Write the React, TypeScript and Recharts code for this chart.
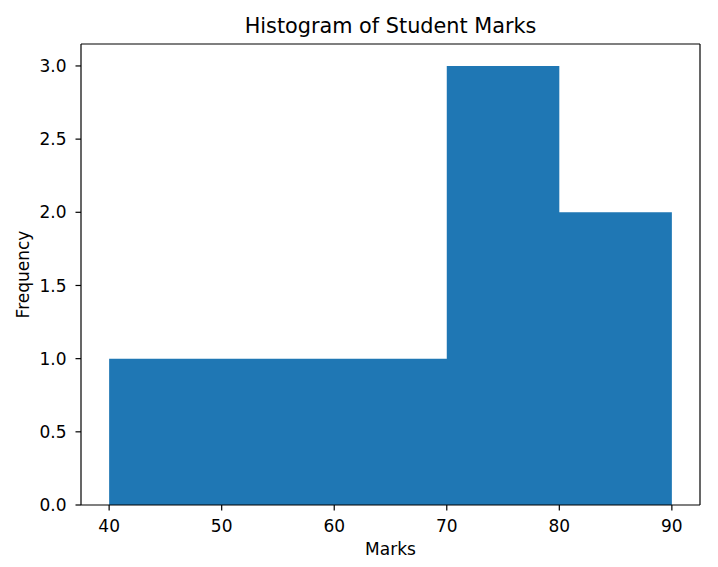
import React from 'react';
import { ComposedChart, Area, XAxis, YAxis, ReferenceLine } from 'recharts';

// histogram bins: edges and counts
const binEdges = [40, 70, 80, 90];
const binCounts = [1, 3, 2];
const xTicks = [40, 50, 60, 70, 80, 90];
const yTicks = [0, 0.5, 1.0, 1.5, 2.0, 2.5, 3.0];

const X_DOMAIN = [37.5, 92.5];
const Y_DOMAIN = [0, 3.15];

const BLUE = '#1f77b4';
const FONT = 'DejaVu Sans, sans-serif';

const App: React.FC = () => {
  // step area: each edge holds the count of the bin starting there, last edge repeats the last count
  const data = binEdges.map((edge, i) => ({
    marks: edge,
    freq: i < binCounts.length ? binCounts[i] : binCounts[binCounts.length - 1],
  }));

  const tickStyle = { fontSize: 17, fontFamily: FONT, fill: '#000' };

  return (
    <div style={{ position: 'absolute', left: 0, top: 0, background: '#fff' }}>
      <ComposedChart width={718} height={567} data={data} margin={{ top: 44, right: 18, bottom: 0, left: 0 }}>
        <XAxis
          dataKey="marks"
          type="number"
          domain={X_DOMAIN}
          ticks={xTicks}
          allowDataOverflow
          height={62}
          stroke="#000"
          strokeWidth={1.2}
          tickSize={5.5}
          tickMargin={9}
          tick={tickStyle}
          label={{
            content: ({ viewBox }: any) => (
              <text x={viewBox.x + viewBox.width / 2} y={555} textAnchor="middle" fontSize={17} fontFamily={FONT} fill="#000">
                Marks
              </text>
            ),
          }}
        />
        <YAxis
          type="number"
          domain={Y_DOMAIN}
          ticks={yTicks}
          allowDataOverflow
          width={81}
          stroke="#000"
          strokeWidth={1.2}
          tickSize={5.5}
          tickMargin={9}
          tick={tickStyle}
          tickFormatter={(v: number) => v.toFixed(1)}
          label={{
            content: ({ viewBox }: any) => {
              const cy = viewBox.y + viewBox.height / 2;
              return (
                <text x={29} y={cy} transform={`rotate(-90, 29, ${cy})`} textAnchor="middle" fontSize={17} fontFamily={FONT} fill="#000">
                  Frequency
                </text>
              );
            },
          }}
        />
        <Area
          dataKey="freq"
          type="stepAfter"
          fill={BLUE}
          fillOpacity={1}
          stroke="none"
          isAnimationActive={false}
          dot={false}
          activeDot={false}
        />
        {/* top and right spines, plus the title */}
        <ReferenceLine
          y={Y_DOMAIN[1]}
          stroke="#000"
          strokeWidth={1.2}
          label={{
            content: ({ viewBox }: any) => (
              <text x={viewBox.x + viewBox.width / 2} y={33} textAnchor="middle" fontSize={20.8} fontFamily={FONT} fill="#000">
                Histogram of Student Marks
              </text>
            ),
          }}
        />
        <ReferenceLine x={X_DOMAIN[1]} stroke="#000" strokeWidth={1.2} />
      </ComposedChart>
    </div>
  );
};

export default App;
